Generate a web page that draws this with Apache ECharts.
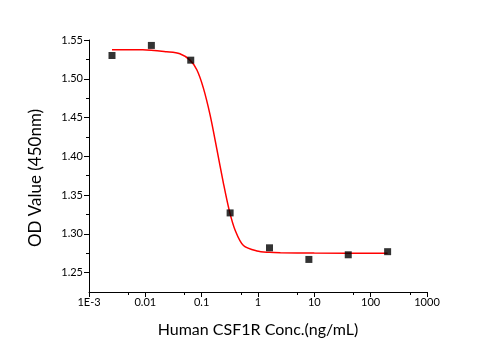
<!DOCTYPE html>
<html>
<head>
<meta charset="utf-8">
<script src="https://cdn.jsdelivr.net/npm/echarts@6/dist/echarts.min.js"></script>
<style>
    html, body {margin: 0; padding: 0; background: #fff;}
    #chart {width: 495px; height: 350px;}
</style>
</head>
<body>
<div id="chart"></div>
<script>
    // measured points (concentration ng/mL, OD 450nm)
    const concX = [0.00256, 0.0128, 0.064, 0.32, 1.6, 8, 40, 200];
    const odY = [1.530, 1.543, 1.524, 1.327, 1.282, 1.267, 1.273, 1.277];

    // fitted curve
    const fitX = [0.00256, 0.009, 0.024, 0.041, 0.062, 0.082, 0.107, 0.141, 0.186, 0.243, 0.311, 0.393, 0.552, 0.955, 1.6, 2.5, 10, 200];
    const fitY = [1.5375, 1.5373, 1.5347, 1.5322, 1.5240, 1.5116, 1.4883, 1.4534, 1.4094, 1.3655, 1.3293, 1.3047, 1.2849, 1.2779, 1.2762, 1.2757, 1.2752, 1.2750];

    const yMajor = [1.25, 1.30, 1.35, 1.40, 1.45, 1.50, 1.55];
    const yMinor = [1.275, 1.325, 1.375, 1.425, 1.475, 1.525];
    const xMinor = [0.005, 0.05, 0.5, 5, 50, 500];
    const xLabels = {"0.001": "1E-3", "0.01": "0.01", "0.1": "0.1", "1": "1", "10": "10", "100": "100", "1000": "1000"};

    const font = "Lato";
    const axisColor = "#000";

    const chart = echarts.init(document.getElementById("chart"));

    chart.setOption({
        animation: false,
        textStyle: {fontFamily: font},
        grid: {left: 89, right: 68, top: 40, bottom: 58},
        xAxis: [
            {
                type: "log",
                logBase: 10,
                min: 0.001,
                max: 1000,
                name: "Human CSF1R Conc.(ng/mL)",
                nameLocation: "middle",
                nameGap: 30,
                nameTextStyle: {fontSize: 16, color: "#000", fontFamily: font},
                axisLine: {lineStyle: {color: axisColor, width: 1}},
                axisTick: {show: true, inside: false, length: 5, lineStyle: {color: axisColor}},
                axisLabel: {
                    color: "#000",
                    fontSize: 11,
                    margin: 5,
                    formatter: v => xLabels[String(v)] ?? String(v)
                },
                splitLine: {show: false}
            },
            {
                type: "log",
                logBase: 10,
                min: 0.001,
                max: 1000,
                position: "bottom",
                axisLine: {show: false},
                axisTick: {show: true, length: 3, customValues: xMinor, lineStyle: {color: axisColor}},
                axisLabel: {show: false},
                splitLine: {show: false}
            }
        ],
        yAxis: [
            {
                type: "value",
                min: 1.225,
                max: 1.55,
                name: "OD Value (450nm)",
                nameLocation: "middle",
                nameGap: 45,
                nameTextStyle: {fontSize: 17, color: "#000", fontFamily: font, padding: [0, 24, 0, 0]},
                axisLine: {show: true, lineStyle: {color: axisColor, width: 1}},
                axisTick: {show: true, length: 5, customValues: yMajor, lineStyle: {color: axisColor}},
                axisLabel: {
                    color: "#000",
                    fontSize: 11,
                    margin: 6,
                    customValues: yMajor,
                    formatter: v => v.toFixed(2)
                },
                splitLine: {show: false}
            },
            {
                type: "value",
                min: 1.225,
                max: 1.55,
                position: "left",
                axisLine: {show: false},
                axisTick: {show: true, length: 3, customValues: yMinor, lineStyle: {color: axisColor}},
                axisLabel: {show: false},
                splitLine: {show: false}
            }
        ],
        series: [
            {
                type: "line",
                data: fitX.map((x, i) => [x, fitY[i]]),
                smooth: 0.3,
                showSymbol: false,
                lineStyle: {color: "#ff0000", width: 1.5},
                z: 2
            },
            {
                type: "scatter",
                data: concX.map((x, i) => [x, odY[i]]),
                symbol: "rect",
                symbolSize: 7,
                itemStyle: {color: "#000"},
                z: 3
            }
        ]
    });
</script>
</body>
</html>
